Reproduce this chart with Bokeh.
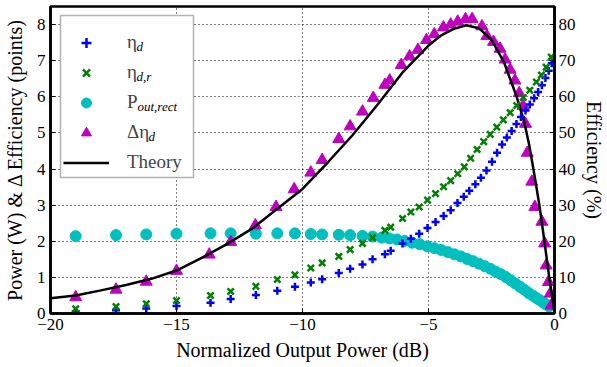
from bokeh.plotting import figure
from bokeh.models import (Range1d, LinearAxis, Legend, LegendItem, Label,
                          FixedTicker, BoxAnnotation)
from bokeh.embed import file_html
from bokeh.resources import INLINE

# ---------------- data ----------------
x_eta_d = [-19.0, -17.4, -16.2, -15.0, -13.65, -12.85, -11.85, -11.0, -10.3, -9.67,
           -9.22, -8.56, -8.11, -7.62, -7.22, -6.73, -6.50, -6.03, -5.70, -5.37,
           -5.04, -4.72, -4.40, -4.12, -3.85, -3.60, -3.38, -3.14, -2.92, -2.70,
           -2.48, -2.28, -2.08, -1.89, -1.70, -1.51, -1.33, -1.15, -0.98, -0.81,
           -0.65, -0.50, -0.36, -0.23, -0.11]
eta_d = [0.6, 0.9, 1.4, 2.1, 3.0, 4.0, 5.1, 6.3, 7.4, 8.6,
         9.5, 11.2, 12.4, 13.6, 15.0, 16.4, 17.4, 19.4, 20.7, 22.1,
         23.7, 25.3, 27.0, 28.6, 30.6, 32.3, 34.0, 35.8, 37.6, 39.6,
         42.0, 44.5, 46.8, 48.7, 50.5, 52.5, 54.4, 56.2, 57.9, 59.6,
         61.3, 63.2, 65.2, 67.2, 69.3]

x_eta_dr = [-19.0, -17.4, -16.2, -15.0, -13.65, -12.85, -11.85, -11.0, -10.3, -9.67,
            -9.22, -8.56, -8.11, -7.62, -7.22, -6.73, -6.50, -6.03, -5.70, -5.37,
            -5.04, -4.72, -4.40, -4.12, -3.84, -3.58, -3.33, -3.07, -2.81, -2.55,
            -2.29, -2.03, -1.76, -1.50, -1.24, -0.98, -0.72, -0.52, -0.33, -0.13]
eta_dr = [1.3, 1.9, 2.7, 3.6, 5.0, 6.1, 7.5, 9.4, 10.7, 12.6,
          14.0, 15.8, 17.7, 19.4, 21.0, 23.0, 23.9, 26.3, 28.1, 29.5,
          31.4, 33.2, 35.1, 36.8, 38.7, 40.6, 43.0, 45.4, 47.6, 49.6,
          51.6, 53.6, 55.6, 57.6, 59.8, 61.8, 64.1, 66.0, 68.2, 71.0]

x_prect = [-19.0, -17.4, -16.2, -15.0, -13.65, -12.85, -11.85, -11.0, -10.3, -9.67,
           -9.22, -8.56, -8.11, -7.62, -7.22, -6.86, -6.55, -6.25, -5.95, -5.65,
           -5.35, -5.05, -4.77, -4.50, -4.23, -3.97, -3.72, -3.47, -3.23, -3.00,
           -2.77, -2.55, -2.34, -2.13, -1.93, -1.74, -1.55, -1.37, -1.20, -1.03,
           -0.87, -0.72, -0.58, -0.45, -0.33, -0.22]
p_rect = [2.14, 2.17, 2.19, 2.21, 2.22, 2.22, 2.21, 2.22, 2.22, 2.20,
          2.19, 2.18, 2.17, 2.15, 2.13, 2.10, 2.08, 2.05, 2.01, 1.96,
          1.92, 1.86, 1.81, 1.76, 1.70, 1.64, 1.58, 1.51, 1.45, 1.38,
          1.31, 1.24, 1.16, 1.09, 1.01, 0.92, 0.83, 0.74, 0.66, 0.57,
          0.50, 0.43, 0.37, 0.31, 0.25, 0.20]

x_delta = [-19.0, -17.4, -16.2, -15.0, -13.7, -12.85, -11.87, -11.05, -10.33, -9.67,
           -9.22, -8.56, -8.11, -7.62, -7.19, -6.73, -6.54, -6.08, -5.75, -5.42,
           -5.08, -4.77, -4.41, -4.12, -3.84, -3.53, -3.27, -2.88, -2.68, -2.42,
           -2.16, -1.96, -1.76, -1.57, -1.40, -1.25, -1.15, -1.08, -0.90, -0.78,
           -0.50, -0.39, -0.33, -0.24, -0.17, -0.13]
delta = [0.45, 0.66, 0.88, 1.18, 1.63, 1.98, 2.44, 2.95, 3.44, 3.90,
         4.25, 4.83, 5.18, 5.59, 5.97, 6.33, 6.45, 6.88, 7.12, 7.30,
         7.57, 7.73, 7.92, 8.00, 8.08, 8.15, 8.15, 7.95, 7.68, 7.52,
         7.33, 7.03, 6.75, 6.45, 6.10, 5.75, 5.25, 4.45, 3.65, 2.95,
         2.54, 1.94, 1.33, 0.87, 0.55, 0.22]

x_theory = [-20, -19, -18, -17, -16, -15, -14, -13, -12, -11,
            -10, -9, -8, -7, -6, -5, -4.5, -4, -3.5, -3,
            -2.5, -2, -1.5, -1.2, -1.0, -0.8, -0.6, -0.4, -0.2, 0]
theory = [0.42, 0.50, 0.64, 0.79, 0.96, 1.19, 1.54, 1.92, 2.35, 2.90,
          3.45, 4.18, 4.95, 5.80, 6.70, 7.42, 7.70, 7.88, 7.98, 7.90,
          7.58, 6.95, 6.00, 5.30, 4.65, 3.85, 3.00, 2.00, 0.95, 0.05]

x_ticks = [-20, -15, -10, -5, 0]
x_tick_labels = ["−20", "−15", "−10", "−5", "0"]
power_ticks = [0, 1, 2, 3, 4, 5, 6, 7, 8]
eff_ticks = [0, 10, 20, 30, 40, 50, 60, 70, 80]

FONT = "Liberation Serif"
FONTQ = "'Liberation Serif', 'Times New Roman', serif"

p = figure(width=607, height=367, output_backend="svg", toolbar_location=None,
           x_range=Range1d(-20, 0), y_range=Range1d(0, 8.5),
           min_border_left=50, min_border_right=47, min_border_top=6,
           min_border_bottom=54, background_fill_color="white",
           border_fill_color="white")
p.extra_y_ranges = {"eff": Range1d(0, 85)}

p.xaxis.ticker = FixedTicker(ticks=x_ticks)
p.yaxis.ticker = FixedTicker(ticks=power_ticks)
p.xaxis.axis_label = "Normalized Output Power (dB)"
p.yaxis.axis_label = "Power (W) & Δ Efficiency (points)"

ax_r = LinearAxis(y_range_name="eff", ticker=FixedTicker(ticks=eff_ticks),
                  axis_label="Efficiency (%)")
p.add_layout(ax_r, "right")

for ax in [p.xaxis[0], p.yaxis[0], ax_r]:
    ax.axis_line_color = "black"
    ax.axis_line_width = 2.5
    ax.major_tick_in = 5
    ax.major_tick_out = 0
    ax.major_tick_line_color = "black"
    ax.major_tick_line_width = 1
    ax.minor_tick_line_color = None
    ax.major_label_text_font = FONTQ
    ax.major_label_text_font_size = "17px"
    ax.major_label_text_color = "black"
    ax.major_label_standoff = 5
    ax.axis_label_text_font = FONTQ
    ax.axis_label_text_font_size = "20px"
    ax.axis_label_text_font_style = "normal"
    ax.axis_label_text_color = "black"
    ax.axis_label_standoff = 8
p.xaxis.major_label_overrides = dict(zip(x_ticks, x_tick_labels))
p.xaxis.axis_label_standoff = 6
ax_r.major_label_standoff = 4
ax_r.axis_label_standoff = 4

p.outline_line_color = "black"
p.outline_line_width = 2.5

p.grid.grid_line_color = "black"
p.grid.grid_line_dash = "1 3"
p.grid.grid_line_width = 1

r_cyan = p.scatter(x_prect, p_rect, marker="circle", size=11,
                   fill_color="#00BFBF", line_color="#00BFBF")
r_mag = p.scatter(x_delta, delta, marker="triangle", size=12,
                  fill_color="#BF00BF", line_color="#BF00BF")
r_th = p.line(x_theory, theory, line_color="black", line_width=2.5)
r_blue = p.scatter(x_eta_d, eta_d, marker="cross", size=8, line_width=2.5,
                   line_color="#0000FF", y_range_name="eff")
r_green = p.scatter(x_eta_dr, eta_dr, marker="x", size=9, line_width=2.5,
                    line_color="#008000", y_range_name="eff")

# legend: white box behind, transparent bokeh legend on top, subscripts as labels
p.add_layout(BoxAnnotation(left=10, right=143, bottom=136, top=298,
                           left_units="screen", right_units="screen",
                           bottom_units="screen", top_units="screen",
                           fill_color="white", fill_alpha=1,
                           line_color="black", line_width=1.5))
subs = [("d", 86, 267), ("d,r", 86, 237), ("out,rect", 87, 207), ("d", 98, 177)]
for t, sx, sy in subs:
    p.add_layout(Label(x=sx, y=sy, x_units="screen", y_units="screen", text=t,
                       text_font=FONT, text_font_size="13px", text_font_style="italic",
                       text_baseline="alphabetic", text_color="black"))

legend = Legend(items=[LegendItem(label="η", renderers=[r_blue]),
                       LegendItem(label="η", renderers=[r_green]),
                       LegendItem(label="P", renderers=[r_cyan]),
                       LegendItem(label="Δη", renderers=[r_mag]),
                       LegendItem(label="Theory", renderers=[r_th])],
                location=(13, 136), padding=6, spacing=0, margin=0,
                glyph_width=46, glyph_height=25, label_height=30,
                label_width=50, label_standoff=18,
                label_text_font=FONT, label_text_font_size="19px",
                border_line_color=None, background_fill_alpha=0)
p.add_layout(legend)

open("out.html", "w").write(file_html(p, INLINE))
